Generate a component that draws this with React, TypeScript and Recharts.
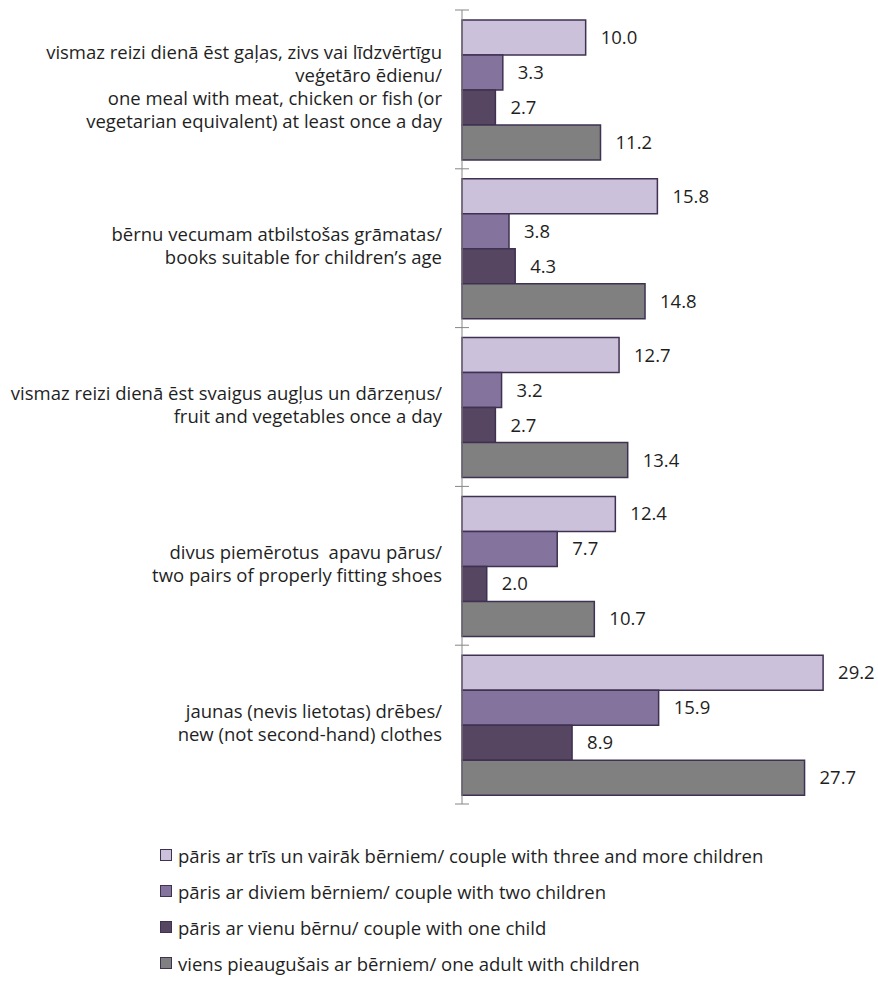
import React from "react";
import {
  BarChart,
  Bar,
  XAxis,
  YAxis,
  Legend,
  LabelList,
} from "recharts";

// category labels, one entry per text line (LV / EN)
const categories: string[][] = [
  [
    "vismaz reizi dienā ēst gaļas, zivs vai līdzvērtīgu",
    "veģetāro ēdienu/",
    "one meal with meat, chicken or fish (or",
    "vegetarian equivalent) at least once a day",
  ],
  ["bērnu vecumam atbilstošas grāmatas/", "books suitable for children’s age"],
  [
    "vismaz reizi dienā ēst svaigus augļus un dārzeņus/",
    "fruit and vegetables once a day",
  ],
  ["divus piemērotus  apavu pārus/", "two pairs of properly fitting shoes"],
  ["jaunas (nevis lietotas) drēbes/", "new (not second-hand) clothes"],
];

const threeChildren = [10.0, 15.8, 12.7, 12.4, 29.2];
const twoChildren = [3.3, 3.8, 3.2, 7.7, 15.9];
const oneChild = [2.7, 4.3, 2.7, 2.0, 8.9];
const singleAdult = [11.2, 14.8, 13.4, 10.7, 27.7];

const seriesNames = [
  "pāris ar trīs un vairāk bērniem/ couple with three and more children",
  "pāris ar diviem bērniem/ couple with two children",
  "pāris ar vienu bērnu/ couple with one child",
  "viens pieaugušais ar bērniem/ one adult with children",
];

const data = categories.map((lines, i) => ({
  key: String(i),
  lines,
  three: threeChildren[i],
  two: twoChildren[i],
  one: oneChild[i],
  single: singleAdult[i],
}));

const W = 878;
const H = 985;
const MARGIN = { top: 10, right: 45, left: 0, bottom: 181 };
const PLOT_H = H - MARGIN.top - MARGIN.bottom;
const HALF_BAND = PLOT_H / categories.length / 2;
const AXIS = "#868686";
const STROKE = "#3f3151";
const TEXT = "#1f1f1f";
const FONT = "'Open Sans', sans-serif";
const FS = 18.5;

function CategoryTick(props: any) {
  const { x, y, index } = props;
  const lines: string[] = categories[index] || [];
  const lh = 23;
  const start = y - 2 - ((lines.length - 1) * lh) / 2;
  return (
    <g>
      <line x1={x - 7} x2={x + 7} y1={y - HALF_BAND} y2={y - HALF_BAND} stroke={AXIS} />
      {index === categories.length - 1 && (
        <line x1={x - 7} x2={x + 7} y1={y + HALF_BAND} y2={y + HALF_BAND} stroke={AXIS} />
      )}
      <text
        x={x - 20}
        y={start}
        textAnchor="end"
        fill={TEXT}
        fontSize={FS}
        style={{ whiteSpace: "pre" }}
      >
        {lines.map((l, i) => (
          <tspan key={i} x={x - 20} y={start + i * lh} dy="0.35em">
            {l}
          </tspan>
        ))}
      </text>
    </g>
  );
}

function LegendBox(props: any) {
  const payload = [...(props.payload || [])].sort(
    (a: any, b: any) => seriesNames.indexOf(a.value) - seriesNames.indexOf(b.value)
  );
  return (
    <div style={{ fontFamily: FONT, fontSize: FS, color: TEXT }}>
      {payload.map((p: any, i: number) => (
        <div key={i} style={{ height: 36, display: "flex", alignItems: "center" }}>
          <span
            style={{
              display: "inline-block",
              width: 10,
              height: 10,
              background: p.color,
              border: `1px solid ${STROKE}`,
              marginRight: 6,
            }}
          />
          <span>{p.value}</span>
        </div>
      ))}
    </div>
  );
}

export default function App() {
  const fmt = (v: any) => Number(v).toFixed(1);
  return (
    <div style={{ position: "absolute", left: 0, top: 0, width: W, height: H, fontFamily: FONT }}>
      <BarChart
        width={W}
        height={H}
        data={data}
        layout="vertical"
        margin={MARGIN}
        barCategoryGap={10}
        barGap={0}
      >
        <XAxis type="number" domain={[0, 30]} hide />
        <YAxis
          type="category"
          dataKey="key"
          width={462}
          axisLine={{ stroke: AXIS }}
          tickLine={false}
          tickSize={0}
          tickMargin={0}
          tick={<CategoryTick />}
          interval={0}
        />
        <Legend
          layout="vertical"
          align="center"
          verticalAlign="middle"
          content={<LegendBox />}
          wrapperStyle={{ top: 837, left: 160, width: "auto" }}
        />
        <Bar dataKey="three" name={seriesNames[0]} fill="#ccc1da" stroke={STROKE} strokeWidth={1.5} isAnimationActive={false}>
          <LabelList dataKey="three" position="right" offset={15} formatter={fmt} fill={TEXT} fontSize={FS} />
        </Bar>
        <Bar dataKey="two" name={seriesNames[1]} fill="#84739c" stroke={STROKE} strokeWidth={1.5} isAnimationActive={false}>
          <LabelList dataKey="two" position="right" offset={15} formatter={fmt} fill={TEXT} fontSize={FS} />
        </Bar>
        <Bar dataKey="one" name={seriesNames[2]} fill="#574662" stroke={STROKE} strokeWidth={1.5} isAnimationActive={false}>
          <LabelList dataKey="one" position="right" offset={15} formatter={fmt} fill={TEXT} fontSize={FS} />
        </Bar>
        <Bar dataKey="single" name={seriesNames[3]} fill="#808080" stroke={STROKE} strokeWidth={1.5} isAnimationActive={false}>
          <LabelList dataKey="single" position="right" offset={15} formatter={fmt} fill={TEXT} fontSize={FS} />
        </Bar>
      </BarChart>
    </div>
  );
}
